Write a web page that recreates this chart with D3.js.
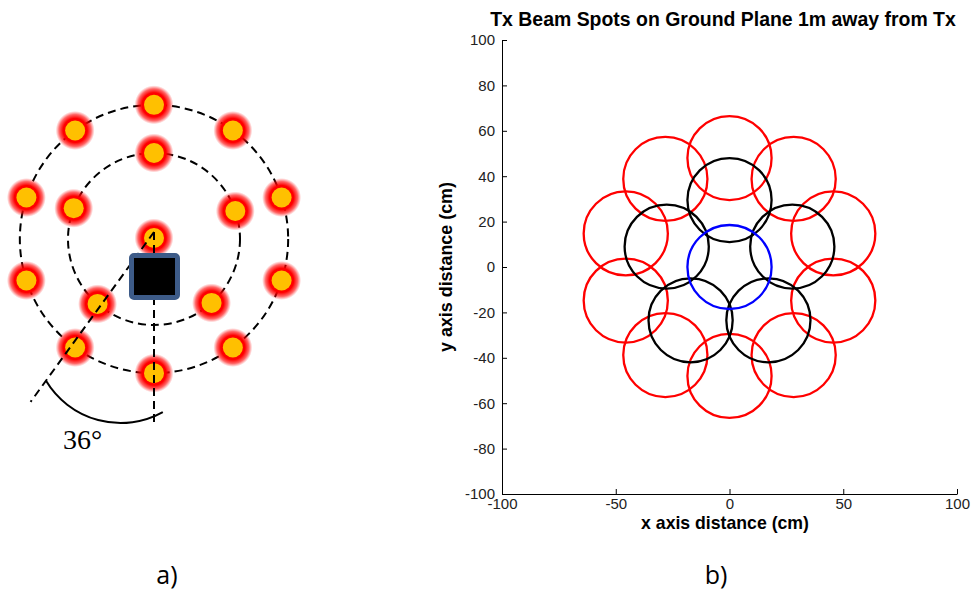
<!DOCTYPE html>
<html>
<head>
<meta charset="utf-8">
<script src="https://d3js.org/d3.v7.min.js"></script>
<style>
  body { margin: 0; background: #fff; }
  text { font-family: "Liberation Sans", Arial, sans-serif; }
  .axis path, .axis line { stroke: #000; stroke-width: 1px; }
  .axis text { font-size: 15px; fill: #222; font-family: "Liberation Sans", Arial, sans-serif; }
  .dash { fill: none; stroke: #000; stroke-width: 2px; stroke-dasharray: 8,5; }
  .spot { fill: none; stroke-width: 2.3px; }
</style>
</head>
<body>
<svg width="972" height="593"></svg>
<script>
// ---- panel a): beam layout (angles in degrees, 0 = right, counter-clockwise)
var innerAngles = [90, 19, -48, -131, 159];
var outerAngles = [90, 54, 18, -18, -54, -90, -126, -162, 162, 126];
var ringRadius = {inner: 1, outer: 1.56};   // relative to inner ring
var tiltAngle = 36;                        // degrees from vertical

// ---- panel b): spot centres (cm) and radius
var blueX = [0], blueY = [0];
var blackX = [0, -27.6, -17.1, 17.1, 27.6];
var blackY = [29.5, 9.0, -23.5, -23.5, 9.0];
var redX = [45.6, 28.2, 0, -28.2, -45.6, -45.6, -28.2, 0, 28.2, 45.6];
var redY = [14.8, 38.8, 48, 38.8, 14.8, -14.8, -38.8, -48, -38.8, -14.8];
var spotRadius = 18.5;
var xTicks = [-100, -50, 0, 50, 100];
var yTicks = [-100, -80, -60, -40, -20, 0, 20, 40, 60, 80, 100];

var svg = d3.select("svg");
var defs = svg.append("defs");
var grad = defs.append("radialGradient").attr("id", "glow");
grad.append("stop").attr("offset", "0%").attr("stop-color", "#ff0000").attr("stop-opacity", 1);
grad.append("stop").attr("offset", "62%").attr("stop-color", "#ff0000").attr("stop-opacity", 1);
grad.append("stop").attr("offset", "82%").attr("stop-color", "#ff0000").attr("stop-opacity", 0.6);
grad.append("stop").attr("offset", "100%").attr("stop-color", "#ff2020").attr("stop-opacity", 0);

// diagram: centre dot at (154,239), inner ring 86px
var cx = 154, cy = 239;
var rs = d3.scaleLinear().domain([0, 1]).range([0, 86]);
function pt(a, r) {
  var t = a * Math.PI / 180;
  return [cx + rs(r) * Math.cos(t), cy - rs(r) * Math.sin(t)];
}

var ga = svg.append("g");
ga.append("circle").attr("class", "dash").attr("cx", cx).attr("cy", cy).attr("r", rs(ringRadius.inner));
ga.append("circle").attr("class", "dash").attr("cx", cx).attr("cy", cy).attr("r", rs(ringRadius.outer));

var dots = [[cx, cy - 1]]
  .concat(innerAngles.map(function(a) { return pt(a, ringRadius.inner); }))
  .concat(outerAngles.map(function(a) { return pt(a, ringRadius.outer); }));

ga.selectAll(".halo").data(dots).enter().append("circle")
    .attr("cx", function(d) { return d[0]; })
    .attr("cy", function(d) { return d[1]; })
    .attr("r", 19.5)
    .attr("fill", "url(#glow)");
ga.selectAll(".dot").data(dots).enter().append("circle")
    .attr("cx", function(d) { return d[0]; })
    .attr("cy", function(d) { return d[1]; })
    .attr("r", 10)
    .attr("fill", "#ffc000");

// vertical and tilted dashed lines
var len = 195, lenT = 210;
ga.append("line").attr("class", "dash")
    .attr("x1", cx).attr("y1", cy - 7).attr("x2", cx).attr("y2", cy - 7 + len);
var tr = tiltAngle * Math.PI / 180;
ga.append("line").attr("class", "dash")
    .attr("x1", cx).attr("y1", cy - 7)
    .attr("x2", cx - lenT * Math.sin(tr)).attr("y2", cy - 7 + lenT * Math.cos(tr));

// transmitter
ga.append("rect")
    .attr("x", 131.5).attr("y", 255.5).attr("width", 46).attr("height", 42)
    .attr("rx", 2.5)
    .attr("fill", "#000").attr("stroke", "#3d5b88").attr("stroke-width", 5);

// angle arc
ga.append("path")
    .attr("transform", "translate(120.6,336)")
    .attr("d", d3.arc().innerRadius(87).outerRadius(87)
        .startAngle(151 * Math.PI / 180).endAngle(239 * Math.PI / 180)())
    .attr("fill", "none").attr("stroke", "#000").attr("stroke-width", 2);

ga.append("text").attr("x", 63).attr("y", 449)
    .style("font-family", "'Liberation Serif', 'Times New Roman', serif")
    .style("font-size", "28px").text("36°");

// ---- panel b)
var x = d3.scaleLinear().domain([-100, 100]).range([502, 957]);
var y = d3.scaleLinear().domain([-100, 100]).range([494, 40]);
var plain = function(d) { return String(d); };

svg.append("g").attr("class", "axis")
    .attr("transform", "translate(0,494)")
    .call(d3.axisBottom(x).tickValues(xTicks).tickFormat(plain)
        .tickSizeInner(-5).tickSizeOuter(0).tickPadding(4));
svg.append("g").attr("class", "axis")
    .attr("transform", "translate(502,0)")
    .call(d3.axisLeft(y).tickValues(yTicks).tickFormat(plain)
        .tickSizeInner(-5).tickSizeOuter(0).tickPadding(7));

function spots(xs, ys, color, w) {
  svg.append("g").selectAll("ellipse").data(xs).enter().append("ellipse")
      .attr("class", "spot")
      .attr("cx", function(d) { return x(d); })
      .attr("cy", function(d, i) { return y(ys[i]); })
      .attr("rx", x(spotRadius) - x(0))
      .attr("ry", y(0) - y(spotRadius))
      .attr("stroke", color)
      .attr("stroke-width", w);
}
spots(redX, redY, "#ff0000", 2.4);
spots(blackX, blackY, "#000000", 2.4);
spots(blueX, blueY, "#0000ff", 2);

function fit(sel, target) {
  sel.style("font-size", "16px");
  var l = sel.node().getComputedTextLength();
  sel.style("font-size", (16 * target / l) + "px");
}

var title = svg.append("text").attr("x", 723).attr("y", 26)
    .attr("text-anchor", "middle").style("font-weight", "bold")
    .text("Tx Beam Spots on Ground Plane 1m away from Tx");
fit(title, 466);

var xl = svg.append("text").attr("x", 725).attr("y", 529)
    .attr("text-anchor", "middle").style("font-weight", "bold")
    .text("x axis distance (cm)");
fit(xl, 168);

var yl = svg.append("text").attr("transform", "translate(452,267) rotate(-90)")
    .attr("text-anchor", "middle").style("font-weight", "bold")
    .text("y axis distance (cm)");
fit(yl, 170);

// panel labels
svg.append("text").attr("x", 167).attr("y", 584).attr("text-anchor", "middle")
    .style("font-family", "'Open Sans', 'Noto Sans', sans-serif").style("font-size", "25px").text("a)");
svg.append("text").attr("x", 716).attr("y", 584).attr("text-anchor", "middle")
    .style("font-family", "'Open Sans', 'Noto Sans', sans-serif").style("font-size", "25px").text("b)");
</script>
</body>
</html>
